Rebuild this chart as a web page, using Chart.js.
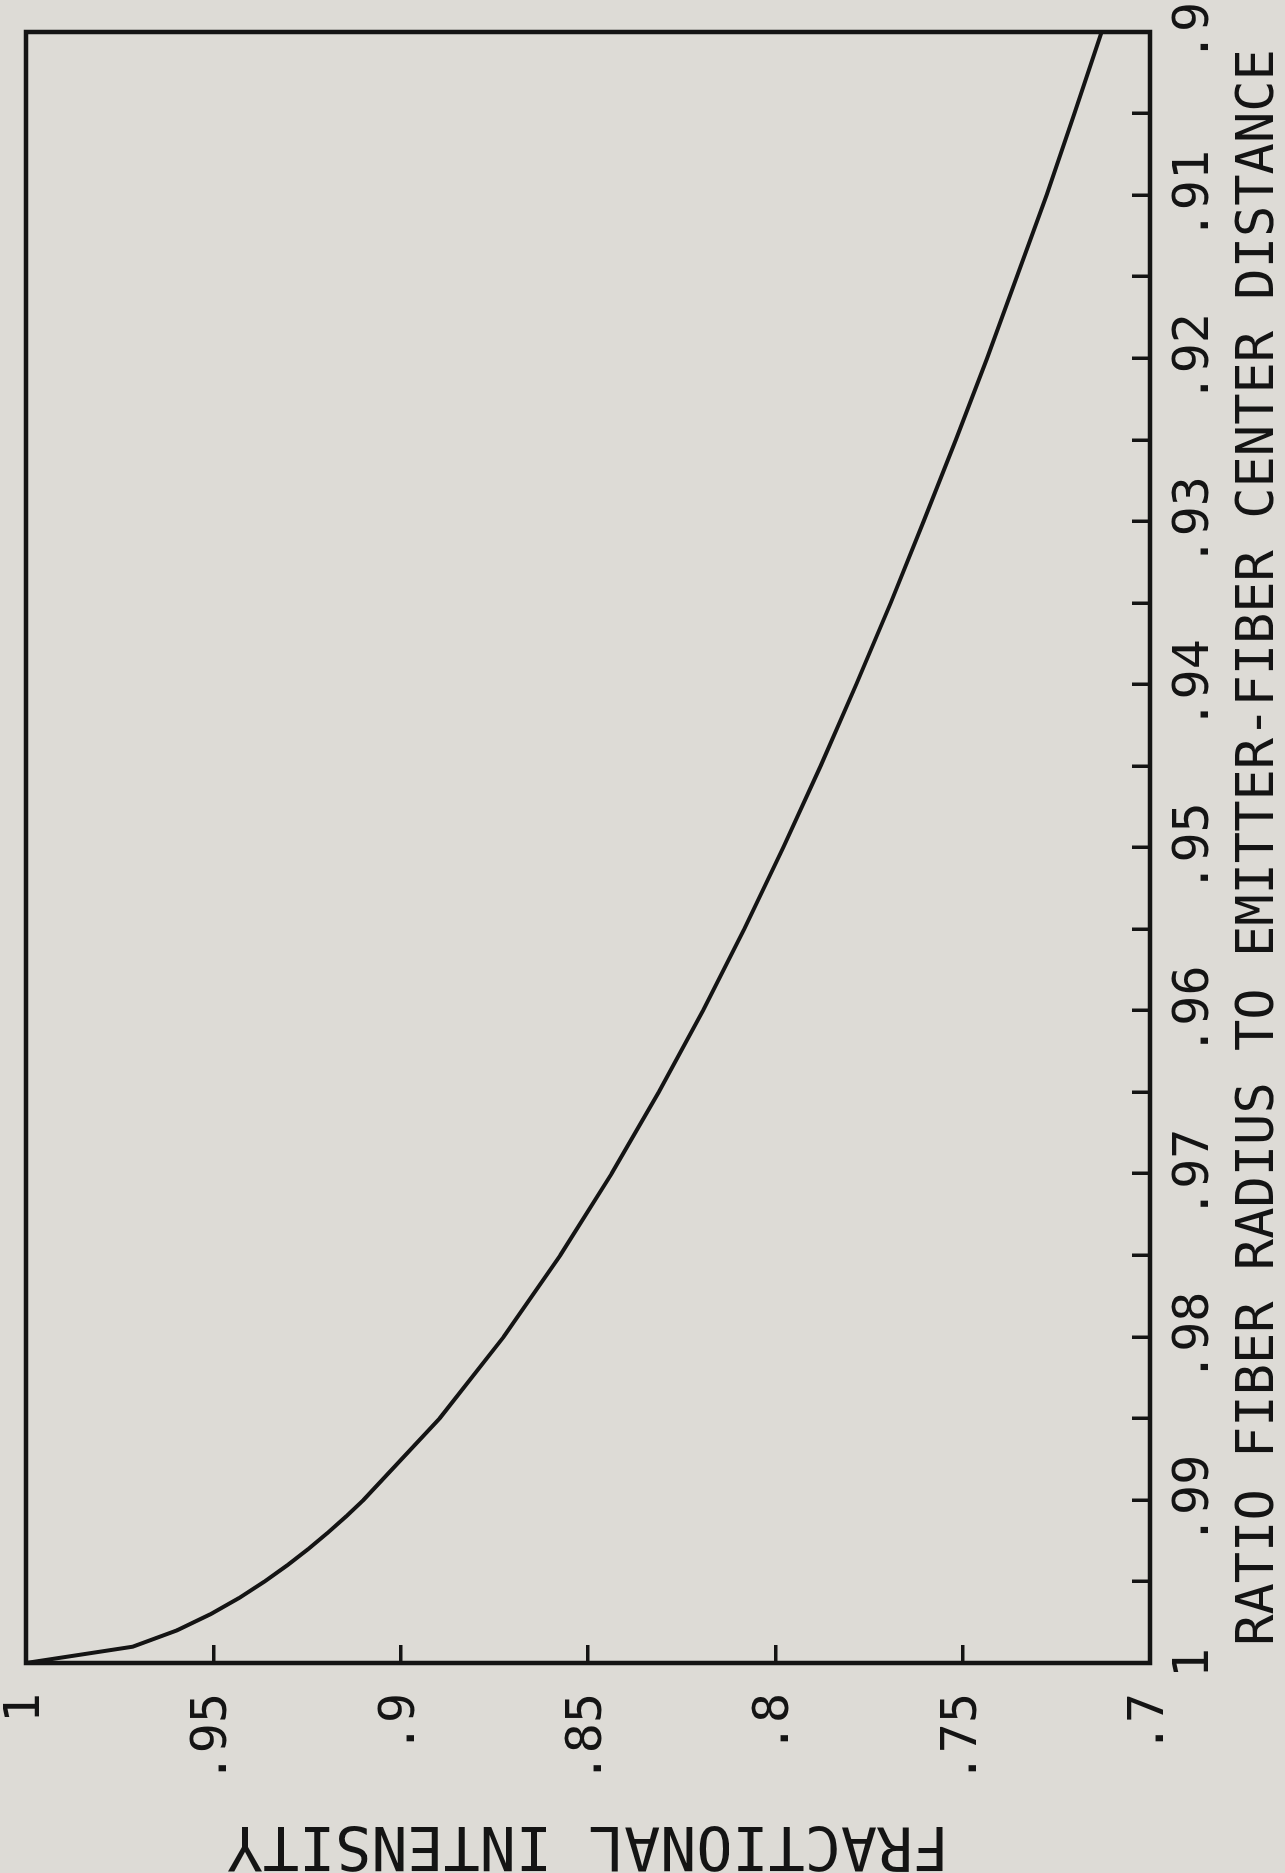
<!DOCTYPE html>
<html>
<head>
<meta charset="utf-8">
<script src="https://cdn.jsdelivr.net/npm/chart.js@4/dist/chart.umd.min.js"></script>
<style>
  html, body { margin: 0; padding: 0; background: #dddbd6; overflow: hidden; }
  #page { position: relative; width: 1285px; height: 1873px; overflow: hidden; }
  /* the plot was printed sideways, so the landscape canvas is turned a quarter left */
  #chart {
    position: absolute; left: 0; top: 0;
    transform-origin: 0 0;
    transform: translate(0, 1873px) rotate(-90deg);
  }
</style>
</head>
<body>
<div id="page">
  <canvas id="chart" width="1873" height="1285"></canvas>
</div>
<script>
const ratio = [1, .999, .998, .997, .996, .995, .994, .993, .992, .991, .99,
  .985, .98, .975, .97, .965, .96, .955, .95, .945, .94, .935, .93, .925,
  .92, .915, .91, .905, .9];
const intensity = [1, .9715, .9597, .9507, .9430, .9363, .9302, .9246, .9194, .9145, .9099,
  .8896, .8725, .8574, .8437, .8311, .8193, .8083, .7979, .7879, .7784, .7692, .7604, .7518,
  .7435, .7355, .7276, .7202, .7129];

const X_TITLE = "RATIO FIBER RADIUS TO EMITTER-FIBER CENTER DISTANCE";
const Y_TITLE = "FRACTIONAL INTENSITY";

const INK = "#141414";
const FONT = "'DejaVu Sans Mono', 'Liberation Mono', monospace";

// .95 instead of 0.95, like the plotter did
const fmt = v => {
  const s = String(Math.round(v * 1000) / 1000);
  return s.startsWith("0") ? s.slice(1) : s;
};

// end labels may hang past the frame; don't let chart.js shrink the plot for them
const noEdgePadding = s => {
  s.paddingLeft = 0; s.paddingRight = 0;
  s.paddingTop = 0; s.paddingBottom = 0;
};

const frame = {
  id: "frame",
  afterDraw(chart) {
    const { ctx, chartArea: a } = chart;
    ctx.save();
    ctx.strokeStyle = INK;
    ctx.lineWidth = 4.5;
    ctx.strokeRect(a.left, a.top, a.right - a.left, a.bottom - a.top);
    ctx.restore();
  }
};

new Chart(document.getElementById("chart"), {
  type: "line",
  data: {
    datasets: [{
      data: ratio.map((r, i) => ({ x: r, y: intensity[i] })),
      borderColor: INK,
      borderWidth: 4,
      pointRadius: 0,
      tension: 0,
      fill: false
    }]
  },
  options: {
    responsive: false,
    animation: false,
    layout: { padding: { left: 0, top: 26, right: 32, bottom: 0 } },
    plugins: { legend: { display: false }, tooltip: { enabled: false } },
    scales: {
      x: {
        type: "linear",
        reverse: true,
        min: 0.9,
        max: 1,
        afterFit: s => { s.height = 135; noEdgePadding(s); },
        border: { display: false },
        grid: { drawOnChartArea: false, drawTicks: true, tickLength: -18, color: INK, lineWidth: 3.5 },
        ticks: {
          stepSize: 0.005,
          autoSkip: false,
          maxRotation: 0,
          minRotation: 0,
          padding: 38,
          color: INK,
          font: { family: FONT, size: 50, lineHeight: 1 },
          callback: v => (Math.round(v * 1000) % 10 === 0 ? fmt(v) : "")
        },
        title: {
          display: true,
          text: X_TITLE,
          color: INK,
          padding: 0,
          font: { family: FONT, size: 52, lineHeight: 1 }
        }
      },
      y: {
        min: 0.7,
        max: 1,
        afterFit: s => { s.width = 210; noEdgePadding(s); },
        border: { display: false },
        grid: { drawOnChartArea: false, drawTicks: true, tickLength: -18, color: INK, lineWidth: 3.5 },
        ticks: {
          stepSize: 0.05,
          autoSkip: false,
          padding: 48,
          color: INK,
          font: { family: FONT, size: 50, lineHeight: 1 },
          callback: v => fmt(v)
        },
        title: {
          display: true,
          text: Y_TITLE,
          color: INK,
          padding: 0,
          font: { family: FONT, size: 60, lineHeight: 1 }
        }
      }
    }
  },
  plugins: [frame]
});
</script>
</body>
</html>
